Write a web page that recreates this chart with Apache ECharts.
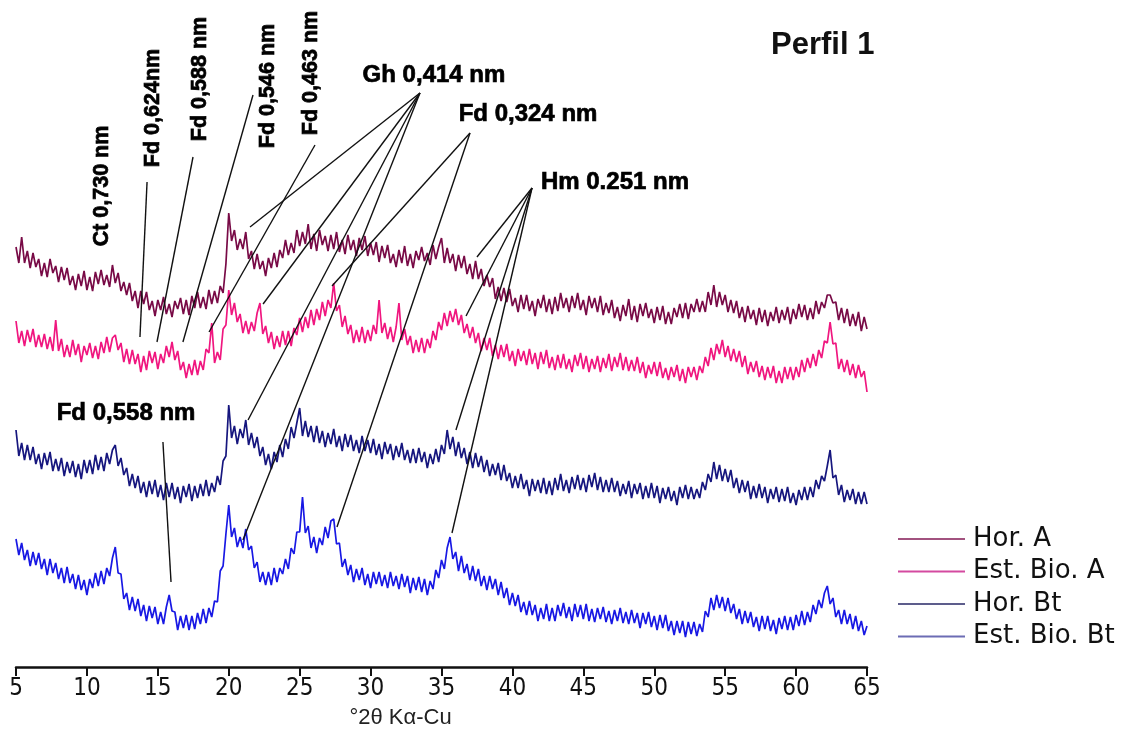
<!DOCTYPE html>
<html><head><meta charset="utf-8">
<script src="https://cdn.jsdelivr.net/npm/echarts@6/dist/echarts.min.js"></script>
<style>html,body{margin:0;padding:0;background:#fff}#c{width:1126px;height:742px}</style>
</head><body><div id="c"></div>
<script>
// 2θ sampling grid: first angle and step (degrees)
const START = 5, STEP = 0.2;
const seriesNames = ['Hor. A', 'Est. Bio. A', 'Hor. Bt', 'Est. Bio. Bt'];
const xTickMin = 5, xTickMax = 65, xTickStep = 5;

// relative intensity (offset traces), one row per degree: x.0 x.2 x.4 x.6 x.8
const horA = [
420,404,430,404,416, 399,414,400,408,391, 404,390,408,394,401, 385,400,387,399,382,
391,377,393,381,396, 377,390,376,395,383, 397,382,392,380,402, 384,394,376,385,372,
384,366,376,359,376, 363,375,357,366,351, 367,357,370,353,363, 350,366,358,369,353,
367,352,371,359,375, 359,370,358,377,363, 376,364,381,374,403, 454,426,437,417,428,
418,435,408,416,398, 413,398,406,391,409, 399,414,400,417,409, 427,412,424,414,437,
421,435,423,443,418, 433,416,437,422,431, 416,432,418,435,415, 427,413,432,417,427,
411,429,417,431,411, 424,412,425,405,421, 409,422,404,413,400, 417,404,421,401,413,
399,416,407,420,406, 414,402,422,408,420, 429,404,419,404,413, 396,412,399,411,393,
403,388,406,388,398, 381,392,380,389,368, 380,366,379,365,378, 361,369,355,372,358,
372,356,366,351,368, 359,372,355,368,353, 370,356,374,359,369, 355,371,359,374,357,
367,352,371,359,369, 355,371,352,364,354, 367,349,360,346,362, 351,368,347,361,345,
363,351,364,349,358, 344,360,347,361,343, 355,343,359,350,363, 349,364,348,363,355,
368,355,366,355,375, 362,382,360,375,362, 372,355,367,354,366, 349,360,345,361,348,
357,342,359,345,357, 341,355,346,360,344, 357,347,360,343,358, 348,363,350,362,347,
359,348,366,353,365, 359,372,372,364,365, 347,359,344,358,341, 353,341,355,336,350,
338];
const estBioA = [
346,324,336,321,337, 325,338,320,332,320, 333,318,330,316,347, 316,328,310,322,310,
327,312,323,305,321, 312,324,309,321,308, 325,314,330,315,329, 332,317,324,305,318,
303,317,303,313,295, 311,297,316,304,315, 298,313,304,321,310, 325,307,316,297,305,
289,303,292,307,292, 306,297,318,314,344, 304,315,307,338,342, 377,352,364,345,353,
334,346,333,345,336, 354,364,333,341,324, 335,318,331,320,336, 322,336,321,339,332,
349,335,350,339,357, 342,358,347,365,351, 367,359,384,356,362, 340,351,333,342,324,
337,325,340,324,337, 326,342,333,367,334, 344,328,340,325,340, 364,327,338,322,331,
314,327,315,329,314, 328,319,336,327,345, 337,354,341,356,345, 358,342,352,334,343,
329,340,324,334,316, 329,317,329,311,322, 308,322,310,323,306, 316,301,318,306,316,
302,318,303,314,298, 315,303,317,299,310, 297,312,299,313,298, 308,295,312,301,314,
298,311,295,308,298, 311,295,309,299,313, 296,310,300,314,297, 310,296,307,296,310,
294,305,289,302,293, 305,291,305,289,299, 287,300,290,302,286, 298,284,300,290,300,
287,301,294,310,301, 319,307,323,313,327, 310,321,306,318,305, 316,300,311,293,305,
295,306,290,301,287, 300,289,301,284,296, 284,300,288,300,287, 300,290,307,295,309,
299,313,301,317,309, 326,324,345,323,324, 298,308,295,307,292, 303,289,302,290,296,
275];
const horBt = [
237,211,224,207,222, 207,220,203,213,198, 214,202,215,196,208, 196,209,191,205,194,
206,190,203,188,207, 194,207,193,212,197, 210,196,214,203,217, 222,201,209,192,199,
181,193,179,191,174, 185,170,186,173,187, 170,182,167,184,170, 184,168,180,164,181,
170,183,166,181,169, 183,171,187,171,184, 175,191,182,206,211, 262,229,241,223,238,
229,247,222,234,219, 230,211,220,202,213, 198,215,205,222,210, 228,218,240,229,244,
259,231,246,230,241, 225,241,224,236,220, 234,223,238,220,231, 216,233,220,232,216,
227,214,231,216,227, 214,228,212,223,208, 225,213,223,207,221, 210,224,207,217,204,
218,204,219,205,215, 199,213,203,218,205, 222,213,237,218,230, 211,225,209,219,203,
215,199,214,200,211, 195,207,191,203,192, 204,187,202,186,194, 179,191,179,193,178,
187,171,188,176,187, 174,189,173,186,172, 189,177,193,176,187, 174,190,178,192,177,
189,175,192,180,194, 177,190,175,187,175, 189,175,186,171,183, 173,186,169,183,173,
184,168,181,169,184, 169,181,164,179,168, 180,166,176,162,180, 169,182,168,180,168,
178,169,185,177,193, 185,205,188,202,186, 198,185,197,179,189, 174,187,175,186,168,
181,169,183,169,180, 164,178,168,180,165, 178,166,180,164,174, 162,177,167,180,167,
180,170,187,178,191, 186,201,217,189,192, 172,182,165,177,167, 178,163,175,163,175,
163];
const estBioBt = [
128,112,124,107,117, 101,115,102,114,98, 108,92,108,94,104, 88,99,84,100,84,
93,78,92,77,87, 72,88,79,94,81, 96,83,99,91,109, 120,94,93,68,74,
57,70,56,68,51, 62,46,61,49,60, 43,55,43,60,72, 56,55,37,51,39,
52,37,51,38,54, 43,58,44,59,50, 66,65,96,101,133, 162,130,139,120,130,
119,138,117,121,99, 105,85,95,82,95, 82,99,85,99,93, 108,98,119,113,135,
135,170,134,141,119, 130,114,129,122,140, 129,146,148,123,124, 100,108,92,102,85,
98,87,99,82,93, 79,95,83,95,81, 92,79,95,81,91, 78,93,80,91,74,
89,77,90,75,88, 72,86,78,97,89, 107,98,119,130,108, 115,96,111,94,103,
87,101,86,98,81, 91,77,91,78,88, 72,85,69,79,62, 74,61,72,55,65,
52,66,52,62,46, 59,48,63,46,59, 46,62,51,64,49, 60,46,63,50,62,
48,63,46,58,45, 59,48,60,45,56, 43,57,46,59,44, 55,43,57,44,54,
39,54,43,55,40, 51,37,52,39,52, 36,46,32,46,34, 46,30,45,33,45,
31,43,35,56,50, 69,57,72,59,70, 56,69,54,63,48, 58,43,56,44,55,
40,50,36,51,38, 51,36,47,33,49, 38,51,37,50,37, 52,41,56,42,55,
45,62,53,67,59, 74,81,63,69,50, 57,43,57,43,53, 38,51,36,46,32,
41];

// peak annotations: text and anchor in data coordinates (2θ, intensity)
const verticalLabels = ['Ct 0,730 nm', 'Fd 0,624nm', 'Fd 0,588 nm', 'Fd 0,546 nm', 'Fd 0,463 nm'];
const verticalAnchors = [[11.06, 481], [14.66, 559], [17.97, 588], [22.77, 581], [25.80, 594]];
const horizontalLabels = ['Gh 0,414 nm', 'Fd 0,324 nm', 'Hm 0.251 nm', 'Fd 0,558 nm'];
const horizontalAnchors = [[34.47, 592], [41.10, 553], [47.23, 485], [12.76, 254]];
// leader lines: [from, to] in data coordinates
const leaderLines = [
  [[14.24, 485], [13.74, 330]],
  [[17.48, 510], [14.94, 325]],
  [[21.71, 572], [16.77, 325]],
  [[26.08, 522], [18.61, 335]],
  [[33.48, 574], [21.50, 440]],
  [[33.48, 574], [22.42, 363]],
  [[33.48, 574], [21.36, 247]],
  [[33.48, 574], [21.00, 127]],
  [[37.01, 534], [27.28, 381]],
  [[37.01, 534], [27.63, 140]],
  [[41.38, 479], [37.50, 410]],
  [[41.38, 479], [36.73, 351]],
  [[41.38, 479], [36.02, 237]],
  [[41.38, 479], [35.74, 134]],
  [[15.36, 225], [15.93, 85]]
];

const colors = ['#780a46', '#f0167f', '#16167e', '#1818e4'];
const legendColors = ['#a2527f', '#d44aa0', '#5d5d8c', '#6c6cb4'];
const allValues = [horA, estBioA, horBt, estBioBt];

const chart = echarts.init(document.getElementById('c'), null, {renderer: 'canvas'});
const traceSeries = allValues.map((vals, k) => ({
  name: seriesNames[k],
  type: 'line',
  data: vals.map((v, i) => [START + STEP * i, v]),
  showSymbol: false,
  symbol: 'none',
  lineStyle: {color: colors[k], width: 1.7},
  itemStyle: {color: colors[k]},
  silent: true,
  z: 2
}));

const labelData = verticalLabels.map((t, i) => ({
  value: verticalAnchors[i], name: t,
  label: {rotate: 90, fontSize: 21.5}
})).concat(horizontalLabels.map((t, i) => ({
  value: horizontalAnchors[i], name: t,
  label: {rotate: 0, fontSize: 24}
})));

chart.setOption({
  animation: false,
  backgroundColor: '#ffffff',
  title: {
    text: 'Perfil 1', left: 766, top: 25,
    textStyle: {fontFamily: 'Liberation Sans', fontWeight: 'bold', fontSize: 31, color: '#111'}
  },
  legend: {
    orient: 'vertical', left: 893, top: 521,
    itemWidth: 67, itemHeight: 2, itemGap: 6.5, icon: 'rect',
    textStyle: {fontFamily: 'DejaVu Sans', fontSize: 26, color: '#111', padding: [0, 0, 0, 3]},
    data: seriesNames.map((n, k) => ({name: n, itemStyle: {color: legendColors[k]}}))
  },
  grid: {left: 16, right: 259, top: 0, bottom: 75, containLabel: false},
  xAxis: {
    type: 'value', min: xTickMin, max: xTickMax, interval: xTickStep,
    name: '°2θ Kα-Cu', nameLocation: 'middle', nameGap: 40,
    nameTextStyle: {fontFamily: 'Liberation Sans', fontSize: 22, color: '#222', padding: [0, 82, 0, 0]},
    axisLine: {onZero: false, lineStyle: {color: '#111', width: 2.5}},
    axisTick: {show: true, inside: false, length: 9, lineStyle: {color: '#111', width: 2}},
    axisLabel: {fontFamily: 'Liberation Sans Narrow, DejaVu Sans Condensed, sans-serif', fontSize: 24, color: '#111', margin: 10},
    splitLine: {show: false}
  },
  yAxis: {type: 'value', min: 0, max: 667, show: false},
  series: traceSeries.concat([
    {
      type: 'lines', coordinateSystem: 'cartesian2d', silent: true, z: 5,
      lineStyle: {color: '#111', width: 1.4, opacity: 1},
      data: leaderLines.map(c => ({coords: c}))
    },
    {
      type: 'scatter', silent: true, z: 6, symbolSize: 1,
      itemStyle: {color: 'rgba(0,0,0,0)'},
      label: {
        show: true, position: 'inside', formatter: p => p.name,
        fontFamily: 'Liberation Sans', fontWeight: 'bold', color: '#000', opacity: 1,
        textBorderColor: '#000', textBorderWidth: 0.7,
        align: 'center', verticalAlign: 'middle'
      },
      labelLayout: {hideOverlap: false},
      data: labelData
    }
  ])
});
</script>
</body></html>
